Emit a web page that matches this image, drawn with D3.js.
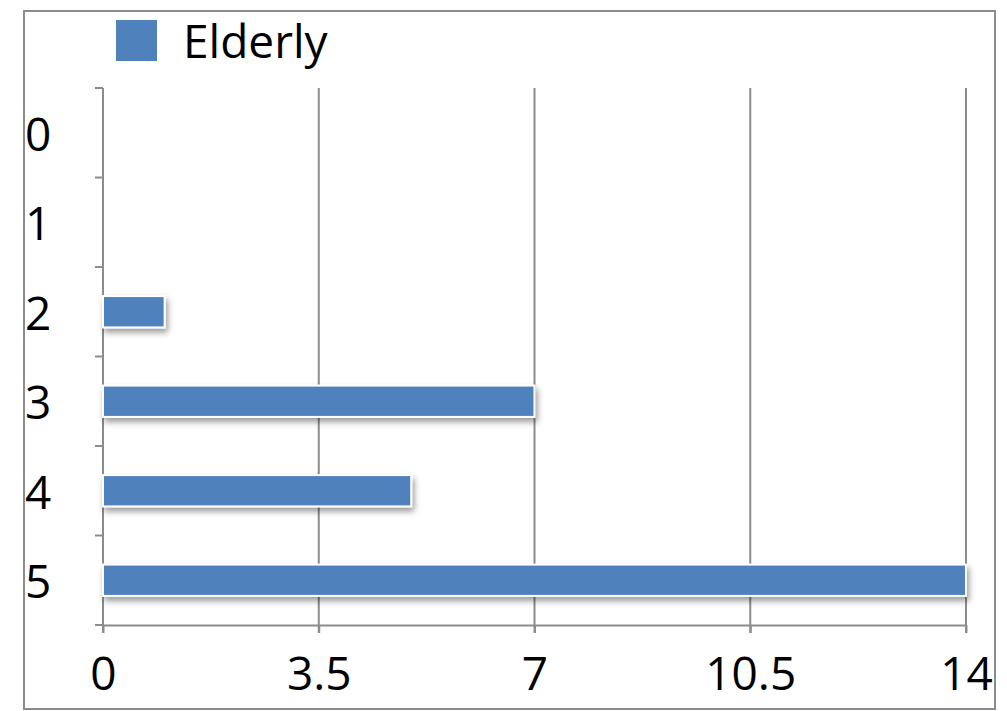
<!DOCTYPE html>
<html>
<head>
<meta charset="utf-8">
<script src="https://cdn.jsdelivr.net/npm/d3@7/dist/d3.min.js"></script>
<style>
  html, body { margin: 0; padding: 0; background: #fff; }
  svg { display: block; }
  text { font-family: "Open Sans", "DejaVu Sans", sans-serif; fill: #000; }
</style>
</head>
<body>
<svg id="chart" width="1007" height="711"></svg>
<script>
// Category labels (top to bottom) and counts for the single series
const categories = ["0", "1", "2", "3", "4", "5"];
const elderly = [0, 0, 1, 7, 5, 14];
const seriesName = "Elderly";
const xTicks = [0, 3.5, 7, 10.5, 14];
const xTickLabels = ["0", "3.5", "7", "10.5", "14"];

const svg = d3.select("#chart");
const W = 1007, H = 711;
const plot = { left: 103, right: 966, top: 88, bottom: 625 };
const grey = "#8c8c8c";
const barColor = "#4f81bd";

// Outer frame
svg.append("rect")
  .attr("x", 24).attr("y", 11)
  .attr("width", 971).attr("height", 698)
  .attr("fill", "#fff")
  .attr("stroke", grey).attr("stroke-width", 2);

// Soft shadow under each bar
const defs = svg.append("defs");
const f = defs.append("filter").attr("id", "shadow")
  .attr("x", "-10%").attr("y", "-40%").attr("width", "130%").attr("height", "200%");
f.append("feDropShadow")
  .attr("dx", 2).attr("dy", 4).attr("stdDeviation", 3)
  .attr("flood-color", "#000").attr("flood-opacity", 0.4);

const x = d3.scaleLinear().domain([0, 14]).range([plot.left, plot.right]);
const y = d3.scaleBand().domain(categories).range([plot.top, plot.bottom])
  .paddingInner(0.65).paddingOuter(0.325);
const yBand = d3.scaleBand().domain(categories).range([plot.top, plot.bottom]);

// Vertical gridlines (extend down through the tick marks)
svg.append("g").selectAll("line")
  .data(xTicks.slice(1))
  .join("line")
  .attr("x1", d => x(d)).attr("x2", d => x(d))
  .attr("y1", plot.top).attr("y2", plot.bottom + 8)
  .attr("stroke", grey).attr("stroke-width", 2);

// X axis
const xAxis = d3.axisBottom(x)
  .tickValues(xTicks)
  .tickFormat((d, i) => xTickLabels[i])
  .tickSizeInner(8).tickSizeOuter(0).tickPadding(24);
const gx = svg.append("g")
  .attr("transform", `translate(0,${plot.bottom})`)
  .call(xAxis);
gx.select(".domain").attr("stroke", grey).attr("stroke-width", 2);
gx.selectAll(".tick line").attr("stroke", grey).attr("stroke-width", 2);
gx.selectAll(".tick text")
  .attr("font-size", 46)
  .attr("dy", "0.71em")
  .style("font-family", '"Open Sans", "DejaVu Sans", sans-serif');

// Y axis: tick marks on band boundaries, labels at band centres
const yEdges = categories.map(c => yBand(c)).concat([plot.bottom]);
svg.append("line")
  .attr("x1", plot.left).attr("x2", plot.left)
  .attr("y1", plot.top).attr("y2", plot.bottom + 8)
  .attr("stroke", grey).attr("stroke-width", 2);
svg.append("g").selectAll("line")
  .data(yEdges)
  .join("line")
  .attr("x1", plot.left - 8).attr("x2", plot.left)
  .attr("y1", d => d).attr("y2", d => d)
  .attr("stroke", grey).attr("stroke-width", 2);
svg.append("g").selectAll("text")
  .data(categories)
  .join("text")
  .attr("x", 25)
  .attr("y", d => yBand(d) + yBand.bandwidth() / 2 + 2)
  .attr("dy", "0.35em")
  .attr("font-size", 46)
  .text(d => d);

// Bars
svg.append("g").selectAll("rect")
  .data(categories.map((c, i) => ({ c, v: elderly[i] })).filter(d => d.v > 0))
  .join("rect")
  .attr("x", x(0))
  .attr("y", d => y(d.c))
  .attr("width", d => x(d.v) - x(0))
  .attr("height", y.bandwidth())
  .attr("fill", barColor)
  .attr("stroke", "#fff").attr("stroke-width", 2)
  .attr("filter", "url(#shadow)");

// Legend
const lg = svg.append("g");
lg.append("rect")
  .attr("x", 116).attr("y", 20).attr("width", 41).attr("height", 41)
  .attr("fill", barColor);
lg.append("text")
  .attr("x", 183).attr("y", 58)
  .attr("font-size", 46)
  .text(seriesName);
</script>
</body>
</html>
